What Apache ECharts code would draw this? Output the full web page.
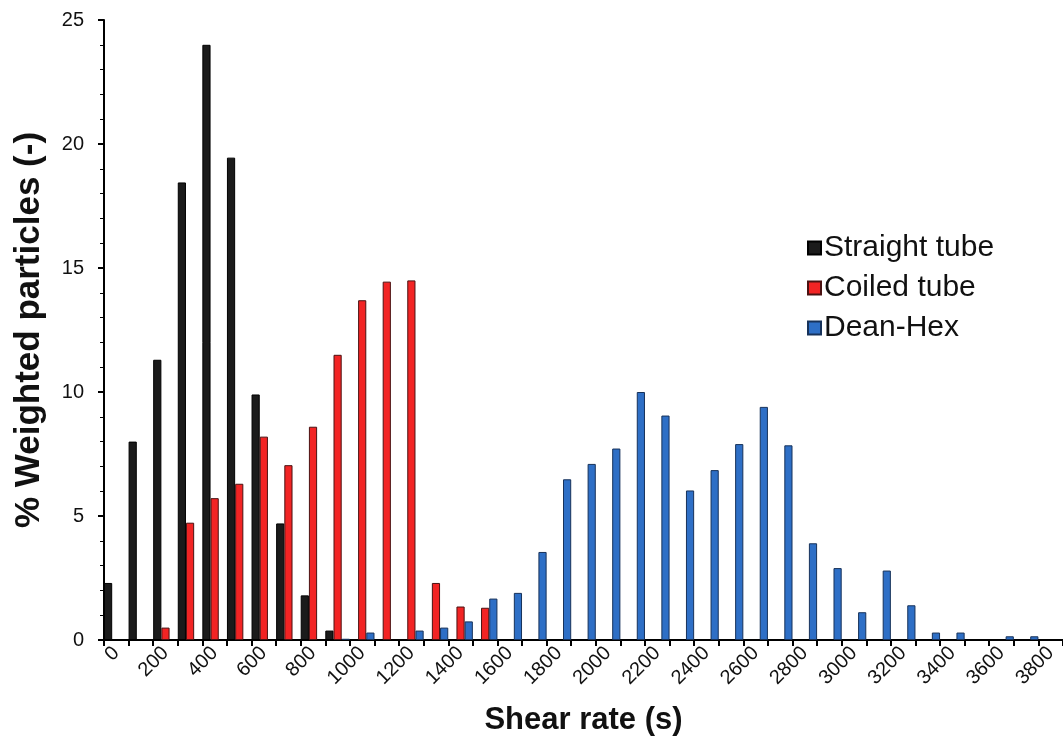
<!DOCTYPE html>
<html>
<head>
<meta charset="utf-8">
<title>Shear rate distribution</title>
<script src="https://cdn.jsdelivr.net/npm/echarts@6/dist/echarts.min.js"></script>
<style>
  html, body { margin: 0; padding: 0; background: #ffffff; }
  #chart { width: 1063px; height: 742px; }
</style>
</head>
<body>
<div id="chart"></div>
<script>
// Shear rate classes (s), one bar group per class
const shearRates = [
  '0', '100', '200', '300', '400', '500', '600', '700', '800', '900',
  '1000', '1100', '1200', '1300', '1400', '1500', '1600', '1700', '1800', '1900',
  '2000', '2100', '2200', '2300', '2400', '2500', '2600', '2700', '2800', '2900',
  '3000', '3100', '3200', '3300', '3400', '3500', '3600', '3700', '3800'
];

// % weighted particles per class
const straightTube = [
  2.3, 8.0, 11.3, 18.45, 24.0, 19.45, 9.9, 4.7, 1.8, 0.38,
  0, 0, 0, 0, 0, 0, 0, 0, 0, 0,
  0, 0, 0, 0, 0, 0, 0, 0, 0, 0,
  0, 0, 0, 0, 0, 0, 0, 0, 0
];
const coiledTube = [
  0, 0, 0.5, 4.73, 5.72, 6.3, 8.2, 7.05, 8.6, 11.5,
  13.7, 14.45, 14.5, 2.3, 1.35, 1.3, 0, 0, 0, 0,
  0, 0, 0, 0, 0, 0, 0, 0, 0, 0,
  0, 0, 0, 0, 0, 0, 0, 0, 0
];
const deanHex = [
  0, 0, 0, 0, 0, 0, 0, 0, 0, 0.05,
  0.3, 0, 0.38, 0.5, 0.75, 1.67, 1.9, 3.55, 6.48, 7.1,
  7.72, 10.0, 9.05, 6.03, 6.85, 7.9, 9.4, 7.85, 3.9, 2.9,
  1.12, 2.8, 1.4, 0.3, 0.3, 0, 0.15, 0.15, 0
];

const seriesNames = ['Straight tube', 'Coiled tube', 'Dean-Hex'];
const seriesColors = ['#1b1b1b', '#f22424', '#2e6fc6'];
const seriesBorders = ['#000000', '#4a1212', '#17325a'];

const FONT = '"Liberation Sans", Arial, Helvetica, sans-serif';

// empty classes are left undrawn
const toBars = arr => arr.map(v => (v === 0 ? null : v));

const chart = echarts.init(document.getElementById('chart'), null, { renderer: 'canvas' });

chart.setOption({
  backgroundColor: '#ffffff',
  animation: false,
  textStyle: { fontFamily: FONT },
  grid: {
    left: 104,
    right: 0,
    top: 20,
    bottom: 102,
    containLabel: false,
    outerBoundsMode: 'none'
  },
  legend: {
    orient: 'vertical',
    left: 802,
    top: 228,
    itemWidth: 13,
    itemHeight: 13,
    itemGap: 10,
    icon: 'rect',
    data: seriesNames,
    textStyle: {
      fontFamily: FONT,
      fontSize: 30,
      lineHeight: 30,
      color: '#111111',
      padding: [0, 0, 0, -2]
    }
  },
  xAxis: {
    type: 'category',
    data: shearRates,
    boundaryGap: true,
    name: 'Shear rate (s)',
    nameLocation: 'middle',
    nameGap: 65,
    nameTextStyle: {
      fontFamily: FONT,
      fontSize: 31,
      fontWeight: 'bold',
      color: '#111111'
    },
    axisLine: { show: true, lineStyle: { color: '#000000', width: 2 } },
    axisTick: {
      show: true,
      interval: 0,
      alignWithLabel: false,
      length: 6,
      lineStyle: { color: '#000000', width: 2 }
    },
    axisLabel: {
      interval: 1,
      rotate: 45,
      margin: 10,
      fontFamily: FONT,
      fontSize: 20,
      color: '#111111'
    },
    splitLine: { show: false }
  },
  yAxis: {
    type: 'value',
    min: 0,
    max: 25,
    interval: 5,
    name: '% Weighted particles (-)',
    nameLocation: 'middle',
    nameGap: 57,
    nameTextStyle: {
      fontFamily: FONT,
      fontSize: 35,
      fontWeight: 'bold',
      color: '#111111'
    },
    axisLine: { show: true, lineStyle: { color: '#000000', width: 2 } },
    axisTick: { show: true, length: 6, lineStyle: { color: '#000000', width: 2 } },
    minorTick: { show: true, splitNumber: 5, length: 4, lineStyle: { color: '#000000', width: 1 } },
    axisLabel: {
      margin: 20,
      fontFamily: FONT,
      fontSize: 20,
      color: '#111111'
    },
    splitLine: { show: false },
    minorSplitLine: { show: false }
  },
  series: [straightTube, coiledTube, deanHex].map((values, i) => ({
    name: seriesNames[i],
    type: 'bar',
    data: toBars(values),
    barGap: '0%',
    barCategoryGap: '0%',
    itemStyle: {
      color: seriesColors[i],
      borderColor: seriesBorders[i],
      borderWidth: 1
    },
    emphasis: { disabled: true }
  }))
});
</script>
</body>
</html>
